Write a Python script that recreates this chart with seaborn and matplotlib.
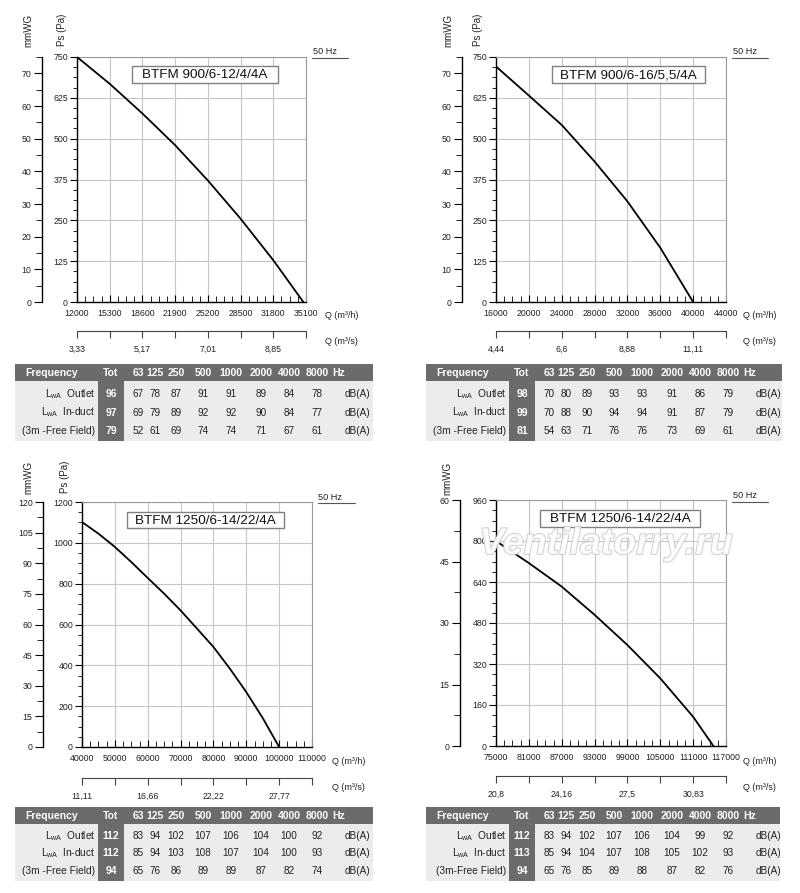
import pandas as pd
import matplotlib
matplotlib.use("Agg")
import matplotlib.pyplot as plt
import matplotlib.patheffects as pe
from matplotlib.patches import Rectangle
from matplotlib.lines import Line2D
from matplotlib.ticker import MultipleLocator, FixedLocator, FormatStrFormatter
import seaborn as sns

# fan curves, Q (m3/h) -> Ps (Pa)
q_900_12 = [12000, 15300, 18600, 21900, 25200, 28500, 31800, 34830]
ps_900_12 = [750, 668, 577, 480, 372, 255, 128, 0]
q_900_16 = [16000, 20000, 24000, 28000, 32000, 36000, 40000]
ps_900_16 = [721, 632, 542, 430, 308, 166, 0]
q_1250_a = [40000, 45000, 50000, 55000, 60000, 65000, 70000, 75000, 80000,
            85000, 90000, 95000, 100000]
ps_1250_a = [1102, 1045, 980, 906, 828, 751, 669, 580, 490, 384, 269, 142, 0]
q_1250_b = [75000, 81000, 87000, 93000, 99000, 105000, 111000, 114700]
ps_1250_b = [800, 714, 622, 512, 394, 264, 114, 0]

titles = ["BTFM 900/6-12/4/4A", "BTFM 900/6-16/5,5/4A",
          "BTFM 1250/6-14/22/4A", "BTFM 1250/6-14/22/4A"]

# second x axis labels (m3/s)
ms_900_12 = ["3,33", "5,17", "7,01", "8,85"]
ms_900_16 = ["4,44", "6,6", "8,88", "11,11"]
ms_1250_a = ["11,11", "16,66", "22,22", "27,77"]
ms_1250_b = ["20,8", "24,16", "27,5", "30,83"]

# sound tables
freqs = ["63", "125", "250", "500", "1000", "2000", "4000", "8000"]
t1_tot = [96, 97, 79]
t1_outlet = [67, 78, 87, 91, 91, 89, 84, 78]
t1_induct = [69, 79, 89, 92, 92, 90, 84, 77]
t1_free = [52, 61, 69, 74, 74, 71, 67, 61]
t2_tot = [98, 99, 81]
t2_outlet = [70, 80, 89, 93, 93, 91, 86, 79]
t2_induct = [70, 88, 90, 94, 94, 91, 87, 79]
t2_free = [54, 63, 71, 76, 76, 73, 69, 61]
t3_tot = [112, 112, 94]
t3_outlet = [83, 94, 102, 107, 106, 104, 100, 92]
t3_induct = [85, 94, 103, 108, 107, 104, 100, 93]
t3_free = [65, 76, 86, 89, 89, 87, 82, 74]
t4_tot = [112, 113, 94]
t4_outlet = [83, 94, 102, 107, 106, 104, 99, 92]
t4_induct = [85, 94, 104, 107, 108, 105, 102, 93]
t4_free = [65, 76, 85, 89, 88, 87, 82, 76]

sns.set_style("white", {"xtick.bottom": True, "ytick.left": True})
plt.rcParams["font.family"] = ["Liberation Sans", "DejaVu Sans"]
plt.rcParams["mathtext.fontset"] = "custom"
plt.rcParams["mathtext.rm"] = "Liberation Sans"

W, H = 800, 893
fig = plt.figure(figsize=(8, 8.93), dpi=100)
fig.patch.set_facecolor("white")


def fbox(x0, y0, x1, y1):
    return [x0 / W, 1 - y1 / H, (x1 - x0) / W, (y1 - y0) / H]


def ftext(x, y, s, **kw):
    return fig.text(x / W, 1 - y / H, s, **kw)


def fline(x0, x1, y, **kw):
    fig.add_artist(Line2D([x0 / W, x1 / W], [1 - y / H, 1 - y / H],
                          transform=fig.transFigure, **kw))


def frect(x0, y0, x1, y1, **kw):
    fig.add_artist(Rectangle((x0 / W, 1 - y1 / H), (x1 - x0) / W, (y1 - y0) / H,
                             transform=fig.transFigure, **kw))


panels = [
    dict(q=q_900_12, ps=ps_900_12, title=titles[0], ms=ms_900_12,
         box=(77, 57, 306, 302), x0=12000, xstep=3300, ymax=750, ystep=125,
         mm_x=42, mm_max=75, mm_step=10, ms_y=330,
         tbox=(132, 66, 278, 83), hz=(313, 52, 312, 348, 58),
         mmlab=(28, 30), pslab=(62, 30), qh=(325, 315), qs=(325, 342)),
    dict(q=q_900_16, ps=ps_900_16, title=titles[1], ms=ms_900_16,
         box=(496, 57, 726, 302), x0=16000, xstep=4000, ymax=750, ystep=125,
         mm_x=462, mm_max=75, mm_step=10, ms_y=330,
         tbox=(552, 66, 705, 83), hz=(733, 52, 732, 768, 58),
         mmlab=(448, 30), pslab=(478, 30), qh=(743, 315), qs=(743, 342)),
    dict(q=q_1250_a, ps=ps_1250_a, title=titles[2], ms=ms_1250_a,
         box=(82, 502, 312, 747), x0=40000, xstep=10000, ymax=1200, ystep=200,
         mm_x=43, mm_max=120, mm_step=15, ms_y=777,
         tbox=(127, 512, 284, 528), hz=(318, 497, 318, 355, 503),
         mmlab=(28, 477), pslab=(65, 477), qh=(332, 762), qs=(332, 788)),
    dict(q=q_1250_b, ps=ps_1250_b, title=titles[3], ms=ms_1250_b,
         box=(496, 500, 726, 746), x0=75000, xstep=6000, ymax=960, ystep=160,
         mm_x=460, mm_max=60, mm_step=15, ms_y=775,
         tbox=(540, 510, 700, 527), hz=(733, 496, 732, 768, 502),
         mmlab=(447, 478), pslab=None, qh=(743, 761), qs=(743, 788)),
]

for p in panels:
    x0, y0, x1, y1 = p["box"]
    xmax = p["x0"] + 7 * p["xstep"]
    major = [p["x0"] + i * p["xstep"] for i in range(8)]
    minor = [p["x0"] + i * p["xstep"] / 4 for i in range(29)]
    ax = fig.add_axes(fbox(x0, y0, x1, y1))
    df = pd.DataFrame({"q": p["q"], "ps": p["ps"]})
    sns.lineplot(data=df, x="q", y="ps", ax=ax, color="black", lw=1.3, zorder=5)
    ax.set_xlim(p["x0"], xmax)
    ax.set_ylim(0, p["ymax"])
    ax.set_xlabel("")
    ax.set_ylabel("")
    ax.xaxis.set_major_locator(FixedLocator(major))
    ax.xaxis.set_minor_locator(FixedLocator(minor))
    ax.yaxis.set_major_locator(MultipleLocator(p["ystep"]))
    ax.yaxis.set_minor_locator(MultipleLocator(p["ystep"] / 4))
    ax.xaxis.set_major_formatter(FormatStrFormatter("%d"))
    ax.yaxis.set_major_formatter(FormatStrFormatter("%d"))
    ax.grid(True, which="major", color="#c6c6c6", lw=0.8)
    ax.set_axisbelow(True)
    for s in ["top", "right"]:
        ax.spines[s].set_color("#9a9a9a")
        ax.spines[s].set_linewidth(0.8)
    for s in ["left", "bottom"]:
        ax.spines[s].set_color("black")
        ax.spines[s].set_linewidth(1.0)
    ax.tick_params(axis="y", which="major", direction="out", length=5, width=0.8,
                   labelsize=6.3, pad=1.5, color="black", labelcolor="#222222")
    ax.tick_params(axis="y", which="minor", direction="out", length=3, width=0.6,
                   left=True, color="black")
    ax.tick_params(axis="x", which="major", direction="in", length=5, width=0.8,
                   labelsize=6.3, pad=5, color="black", labelcolor="#222222")
    ax.tick_params(axis="x", which="minor", direction="in", length=4, width=0.6,
                   bottom=True, color="black")

    # mmWG axis
    axm = fig.add_axes(fbox(p["mm_x"], y0, p["mm_x"] + 1, y1))
    axm.patch.set_visible(False)
    for s in ["top", "right", "bottom"]:
        axm.spines[s].set_visible(False)
    axm.spines["left"].set_color("black")
    axm.spines["left"].set_linewidth(1.0)
    axm.set_xticks([])
    axm.set_ylim(0, p["mm_max"])
    axm.yaxis.set_major_locator(MultipleLocator(p["mm_step"]))
    axm.yaxis.set_minor_locator(MultipleLocator(p["mm_step"] / 2))
    axm.tick_params(axis="y", which="major", direction="out", length=6, width=0.8,
                    labelsize=6.3, pad=1.5, color="black", labelcolor="#222222")
    axm.tick_params(axis="y", which="minor", direction="out", length=4, width=0.6,
                    left=True, color="black")

    # m3/s axis
    axs = fig.add_axes(fbox(x0, p["ms_y"], x1, p["ms_y"] + 0.5))
    axs.patch.set_visible(False)
    for s in ["top", "right", "left"]:
        axs.spines[s].set_visible(False)
    axs.spines["bottom"].set_color("#444444")
    axs.spines["bottom"].set_linewidth(0.8)
    axs.set_yticks([])
    axs.set_xlim(p["x0"], xmax)
    labs = [""] * 8
    for i, lab in enumerate(p["ms"]):
        labs[2 * i] = lab
    axs.set_xticks(major)
    axs.set_xticklabels(labs)
    axs.tick_params(axis="x", direction="out", length=5, width=0.8, pad=5,
                    labelsize=6.3, color="#444444", labelcolor="#222222")

    # title box
    bx0, by0, bx1, by1 = p["tbox"]
    frect(bx0, by0, bx1, by1, facecolor="white", edgecolor="#808080", lw=1.0, zorder=6)
    ftext((bx0 + bx1) / 2, (by0 + by1) / 2 + 0.5, p["title"], fontsize=9.7,
          ha="center", va="center", color="#111111", zorder=7)

    # 50 Hz
    hx, hy, lx0, lx1, ly = p["hz"]
    ftext(hx, hy, "50 Hz", fontsize=6.6, ha="left", va="center", color="#222222")
    fline(lx0, lx1, ly, color="#555555", lw=0.8)

    ftext(*p["mmlab"], "mmWG", fontsize=7, rotation=90, ha="center", va="center",
          color="#222222")
    if p["pslab"]:
        ftext(*p["pslab"], "Ps (Pa)", fontsize=7, rotation=90, ha="center",
              va="center", color="#222222")
    ftext(*p["qh"], "Q (m³/h)", fontsize=6.5, ha="left", va="center", color="#222222")
    ftext(*p["qs"], "Q (m³/s)", fontsize=6.5, ha="left", va="center", color="#222222")

# watermark
ftext(606, 544, "Ventilatorry.ru", fontsize=27, style="italic", fontweight="bold",
      ha="center", va="center", color="white", alpha=0.8, zorder=20,
      path_effects=[pe.withStroke(linewidth=1.3, foreground="#c4c4c4")])

# tables
col_rel = [123, 140, 161, 188, 216, 246, 274, 302]
row_labels = [r"L$_{\mathregular{wA}}$  Outlet", r"L$_{\mathregular{wA}}$  In-duct",
              "(3m -Free Field)"]
dark = "#6b6b6b"
light = "#ececec"


def draw_table(x0, x1, y0, y1, hh, row_y, tot, rows, labels):
    ax = fig.add_axes(fbox(x0, y0, x1, y1))
    w, h = x1 - x0, y1 - y0
    ax.set_xlim(0, w)
    ax.set_ylim(h, 0)
    ax.axis("off")
    ax.add_patch(Rectangle((0, hh), w, h - hh, color=light, lw=0))
    ax.add_patch(Rectangle((0, 0), w, hh, color=dark, lw=0))
    ax.add_patch(Rectangle((83, hh), 26, h - hh, color=dark, lw=0))
    hy = hh / 2 + 0.5
    ax.text(37, hy, "Frequency", color="white", fontsize=7.5, fontweight="bold",
            ha="center", va="center")
    ax.text(96, hy, "Tot", color="white", fontsize=7.5, fontweight="bold",
            ha="center", va="center")
    for cx, f in zip(col_rel, freqs):
        ax.text(cx, hy, f, color="white", fontsize=7.5, fontweight="bold",
                ha="center", va="center")
    ax.text(324, hy, "Hz", color="white", fontsize=7.5, fontweight="bold",
            ha="center", va="center")
    for ry, lab, t, vals in zip(row_y, labels, tot, rows):
        ax.text(80, ry, lab, fontsize=7.3, ha="right", va="center", color="#222222")
        ax.text(96, ry, str(t), fontsize=7.5, fontweight="bold", color="white",
                ha="center", va="center")
        for cx, v in zip(col_rel, vals):
            ax.text(cx, ry, str(v), fontsize=7.2, ha="center", va="center",
                    color="#222222")
        ax.text(342, ry, "dB(A)", fontsize=7.2, ha="center", va="center",
                color="#222222")


draw_table(15, 373, 364, 441, 17, [30, 48.5, 67], t1_tot,
           [t1_outlet, t1_induct, t1_free], row_labels)
draw_table(426, 782, 364, 441, 17, [30, 48.5, 67], t2_tot,
           [t2_outlet, t2_induct, t2_free], row_labels)
draw_table(15, 373, 807, 881, 17, [29, 46.5, 64], t3_tot,
           [t3_outlet, t3_induct, t3_free], row_labels)
draw_table(426, 780, 807, 881, 17, [29, 46.5, 64], t4_tot,
           [t4_outlet, t4_induct, t4_free], row_labels[:2] + ["(3m-Free Field)"])

fig.savefig("out.png", dpi=100)
